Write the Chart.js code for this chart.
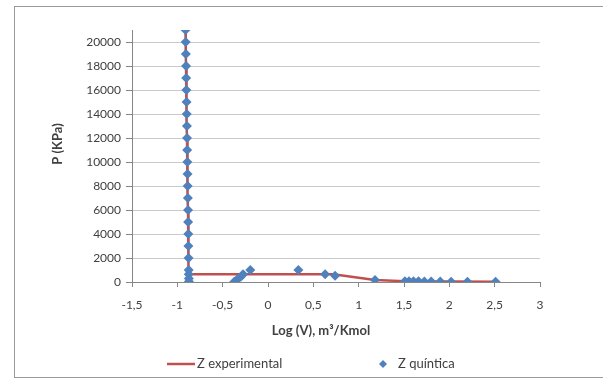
<!DOCTYPE html>
<html>
<head>
<meta charset="utf-8">
<title>P vs Log(V)</title>
<script src="https://cdn.jsdelivr.net/npm/chart.js@4.4.1/dist/chart.umd.min.js"></script>
<style>
html,body{margin:0;padding:0;background:#fff}
.wrap{position:relative;width:603px;height:378px;overflow:hidden;font-family:'Lato',sans-serif}
.frame{position:absolute;left:14px;top:6px;width:700px;height:372px;border:1px solid #9a9a9a;box-sizing:border-box}
#chart{position:absolute;left:0;top:0}
</style>
</head>
<body>
<div class="wrap">
  <div class="frame"></div>
  <canvas id="chart" width="603" height="378"></canvas>
</div>
<script>
// Z quíntica: liquid column, loop inside the two-phase region, vapour branch
const quinticaLogV = [
  -0.910, -0.908, -0.906, -0.904, -0.902, -0.900, -0.898, -0.896, -0.894, -0.893, -0.891,
  -0.889, -0.887, -0.886, -0.884, -0.882, -0.881, -0.879, -0.878, -0.876, -0.875,
  -0.874, -0.873, -0.872,
  -0.372, -0.338, -0.300, -0.275, -0.195,
  0.335, 0.630, 0.740, 1.180,
  1.510, 1.555, 1.605, 1.660, 1.725, 1.800, 1.900, 2.020, 2.200, 2.510
];
const quinticaP = [
  21000, 20000, 19000, 18000, 17000, 16000, 15000, 14000, 13000, 12000, 11000,
  10000, 9000, 8000, 7000, 6000, 5000, 4000, 3000, 2000, 1000,
  640, 300, 40,
  20, 220, 440, 640, 1000,
  1000, 640, 530, 170,
  70, 65, 60, 55, 50, 45, 40, 30, 25, 15
];

// Z experimental
const expLogV = [
  -0.910, -0.908, -0.906, -0.904, -0.902, -0.900, -0.898, -0.896, -0.894, -0.893, -0.891,
  -0.889, -0.887, -0.886, -0.884, -0.882, -0.881, -0.879, -0.878, -0.876, -0.875,
  -0.873, 0.720, 1.180, 1.510, 2.000, 2.510
];
const expP = [
  21000, 20000, 19000, 18000, 17000, 16000, 15000, 14000, 13000, 12000, 11000,
  10000, 9000, 8000, 7000, 6000, 5000, 4000, 3000, 2000, 1000,
  640, 640, 170, 70, 35, 15
];

// axis ticks
const xTickValues = [-1.5, -1, -0.5, 0, 0.5, 1, 1.5, 2, 2.5, 3];
const yTickValues = [0, 2000, 4000, 6000, 8000, 10000, 12000, 14000, 16000, 18000, 20000];
const yMax = 21000;

const xTitle = 'Log (V), m³/Kmol';
const yTitle = 'P (KPa)';

const toPoints = (xs, ys) => xs.map((x, i) => ({ x, y: ys[i] }));
const asTicks = vals => vals.map(value => ({ value }));

const txt = '#404040';
const axisGray = '#868686';
const font = { family: 'Lato', size: 12 };

// axis titles and the legend, drawn on the canvas after the chart
const decorations = {
  id: 'decorations',
  afterDraw(chart) {
    const ctx = chart.ctx;
    const [exp, quin] = chart.data.datasets;
    ctx.save();
    ctx.fillStyle = txt;
    ctx.textBaseline = 'middle';

    ctx.font = 'bold 13px Lato';
    ctx.textAlign = 'center';
    ctx.fillText(xTitle, 321, 331);
    ctx.save();
    ctx.translate(58, 144);
    ctx.rotate(-Math.PI / 2);
    ctx.fillText(yTitle, 0, 0);
    ctx.restore();

    const y = 364;
    ctx.font = '13px Lato';
    ctx.textAlign = 'left';
    ctx.strokeStyle = exp.borderColor;
    ctx.lineWidth = 2.5;
    ctx.beginPath();
    ctx.moveTo(167, y);
    ctx.lineTo(195, y);
    ctx.stroke();
    ctx.fillText(exp.label, 197, y);
    ctx.fillStyle = quin.backgroundColor;
    Chart.helpers.drawPoint(ctx, { pointStyle: 'rectRot', radius: 4, borderWidth: 0 }, 383, y);
    ctx.fillStyle = txt;
    ctx.fillText(quin.label, 398, y);
    ctx.restore();
  }
};

new Chart(document.getElementById('chart'), {
  type: 'scatter',
  data: {
    datasets: [
      {
        label: 'Z experimental',
        data: toPoints(expLogV, expP),
        showLine: true,
        borderColor: '#c0504d',
        backgroundColor: '#c0504d',
        borderWidth: 2.5,
        pointRadius: 0,
        order: 2
      },
      {
        label: 'Z quíntica',
        data: toPoints(quinticaLogV, quinticaP),
        pointStyle: 'rectRot',
        pointRadius: 5,
        backgroundColor: '#4f81bd',
        borderColor: '#4f81bd',
        borderWidth: 0,
        order: 1
      }
    ]
  },
  options: {
    responsive: false,
    animation: false,
    layout: { padding: { top: 30, right: 63, bottom: 36, left: 0 } },
    plugins: { legend: { display: false }, tooltip: { enabled: false } },
    scales: {
      x: {
        type: 'linear',
        min: xTickValues[0],
        max: xTickValues[xTickValues.length - 1],
        afterBuildTicks: s => { s.ticks = asTicks(xTickValues); },
        afterFit: s => { s.height = 60; },
        ticks: {
          autoSkip: false,
          maxRotation: 0,
          color: txt,
          font,
          padding: 11,
          callback: v => String(v).replace('.', ',')
        },
        grid: { drawOnChartArea: false, tickLength: 5, tickColor: axisGray },
        border: { color: axisGray }
      },
      y: {
        min: yTickValues[0],
        max: yMax,
        afterBuildTicks: s => { s.ticks = asTicks(yTickValues); },
        afterFit: s => { s.width = 132; },
        ticks: {
          autoSkip: false,
          color: txt,
          font,
          padding: 5,
          callback: v => String(v)
        },
        grid: { color: '#cacaca', tickLength: 6, tickColor: axisGray },
        border: { color: axisGray }
      }
    }
  },
  plugins: [decorations]
});
</script>
</body>
</html>
